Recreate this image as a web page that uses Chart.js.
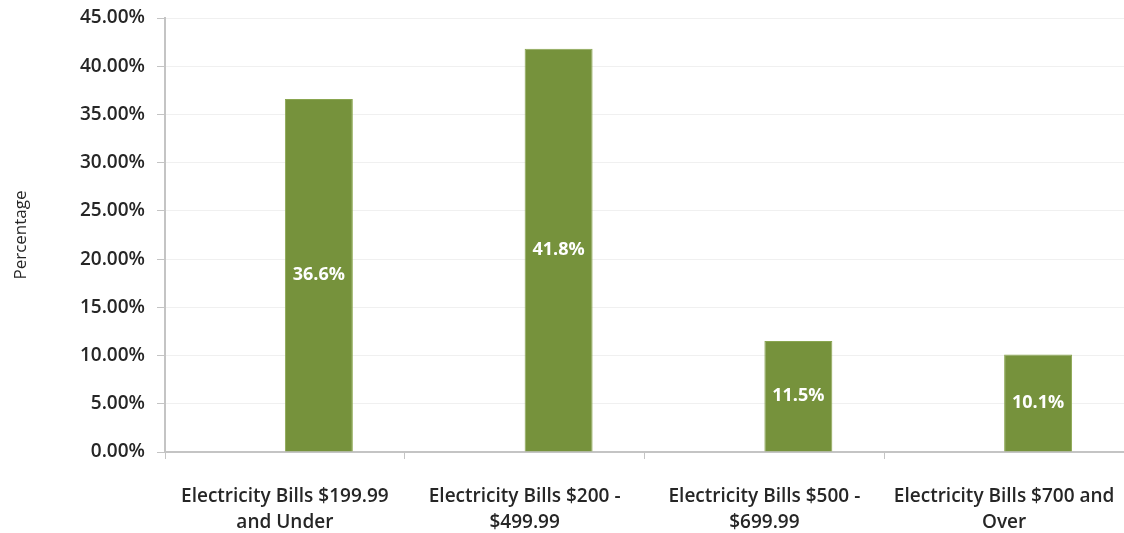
<!DOCTYPE html>
<html>
<head>
<meta charset="utf-8">
<script src="https://cdn.jsdelivr.net/npm/chart.js@4"></script>
<style>
  html, body { margin: 0; padding: 0; background: #fff; }
  #wrap { width: 1124px; height: 533px; position: relative; }
</style>
</head>
<body>
<div id="wrap"><canvas id="myChart"></canvas></div>
<script>
// chart data
const categories = [
    ['Electricity Bills $199.99', 'and Under'],
    ['Electricity Bills $200 -', '$499.99'],
    ['Electricity Bills $500 -', '$699.99'],
    ['Electricity Bills $700 and', 'Over']
];
// the original excel chart has an empty first series, which pushes bars right of centre
const emptySeries = [null, null, null, null];
const percentages = [36.6, 41.8, 11.5, 10.1];
const valueLabels = ['36.6%', '41.8%', '11.5%', '10.1%'];
const yTickStep = 5;
const yMax = 45;

const fontFamily = '"Open Sans", sans-serif';

// draws the value text in the middle of each bar
const barLabels = {
    id: 'barLabels',
    afterDatasetsDraw(chart) {
        const ctx = chart.ctx;
        const meta = chart.getDatasetMeta(1);
        ctx.save();
        ctx.fillStyle = '#ffffff';
        ctx.font = 'bold 18px ' + fontFamily;
        ctx.textAlign = 'center';
        ctx.textBaseline = 'middle';
        meta.data.forEach((bar, i) => {
            const midY = (bar.y + bar.base) / 2;
            ctx.fillText(valueLabels[i], bar.x, midY);
        });
        ctx.restore();
    }
};

const ctx = document.getElementById('myChart').getContext('2d');
new Chart(ctx, {
    type: 'bar',
    data: {
        labels: categories,
        datasets: [
            { data: emptySeries, backgroundColor: 'transparent', barPercentage: 1, categoryPercentage: 0.567 },
            {
                data: percentages,
                backgroundColor: '#76923c',
                borderColor: '#8aa650',
                borderWidth: 1,
                barPercentage: 1,
                categoryPercentage: 0.567
            }
        ]
    },
    options: {
        responsive: true, maintainAspectRatio: false, animation: false,
        layout: { padding: { top: 18, right: 0, left: 0, bottom: 0 } },
        plugins: { legend: { display: false }, tooltip: { enabled: false } },
        scales: {
            x: {
                grid: { display: true, drawOnChartArea: false, drawTicks: true, tickLength: 7, color: '#c4c4c4', offset: true },
                border: { color: '#c4c4c4', width: 2 },
                ticks: {
                    color: '#262626',
                    font: { family: fontFamily, size: 19, weight: '600', lineHeight: 1.35 },
                    maxRotation: 0, autoSkip: false, padding: 25
                },
                afterFit: scale => {
                    scale.height = 81;
                    scale.paddingLeft = 0;
                    scale.paddingRight = 0;
                }
            },
            y: {
                min: 0, max: yMax,
                grid: { color: '#f0f0f0', tickColor: '#c4c4c4', tickLength: 8 },
                border: { color: '#c4c4c4', width: 2 },
                ticks: {
                    stepSize: yTickStep,
                    color: '#262626',
                    font: { family: fontFamily, size: 19, weight: '600' },
                    padding: 12,
                    callback: v => v.toFixed(2) + '%'
                },
                title: { display: true, text: 'Percentage', color: '#262626', font: { family: fontFamily, size: 17 }, padding: { top: 11, bottom: 0 } },
                afterFit: scale => {
                    scale.width = 165;
                    scale.paddingTop = 0;
                    scale.paddingBottom = 0;
                }
            }
        }
    },
    plugins: [barLabels]
});
</script>
</body>
</html>
